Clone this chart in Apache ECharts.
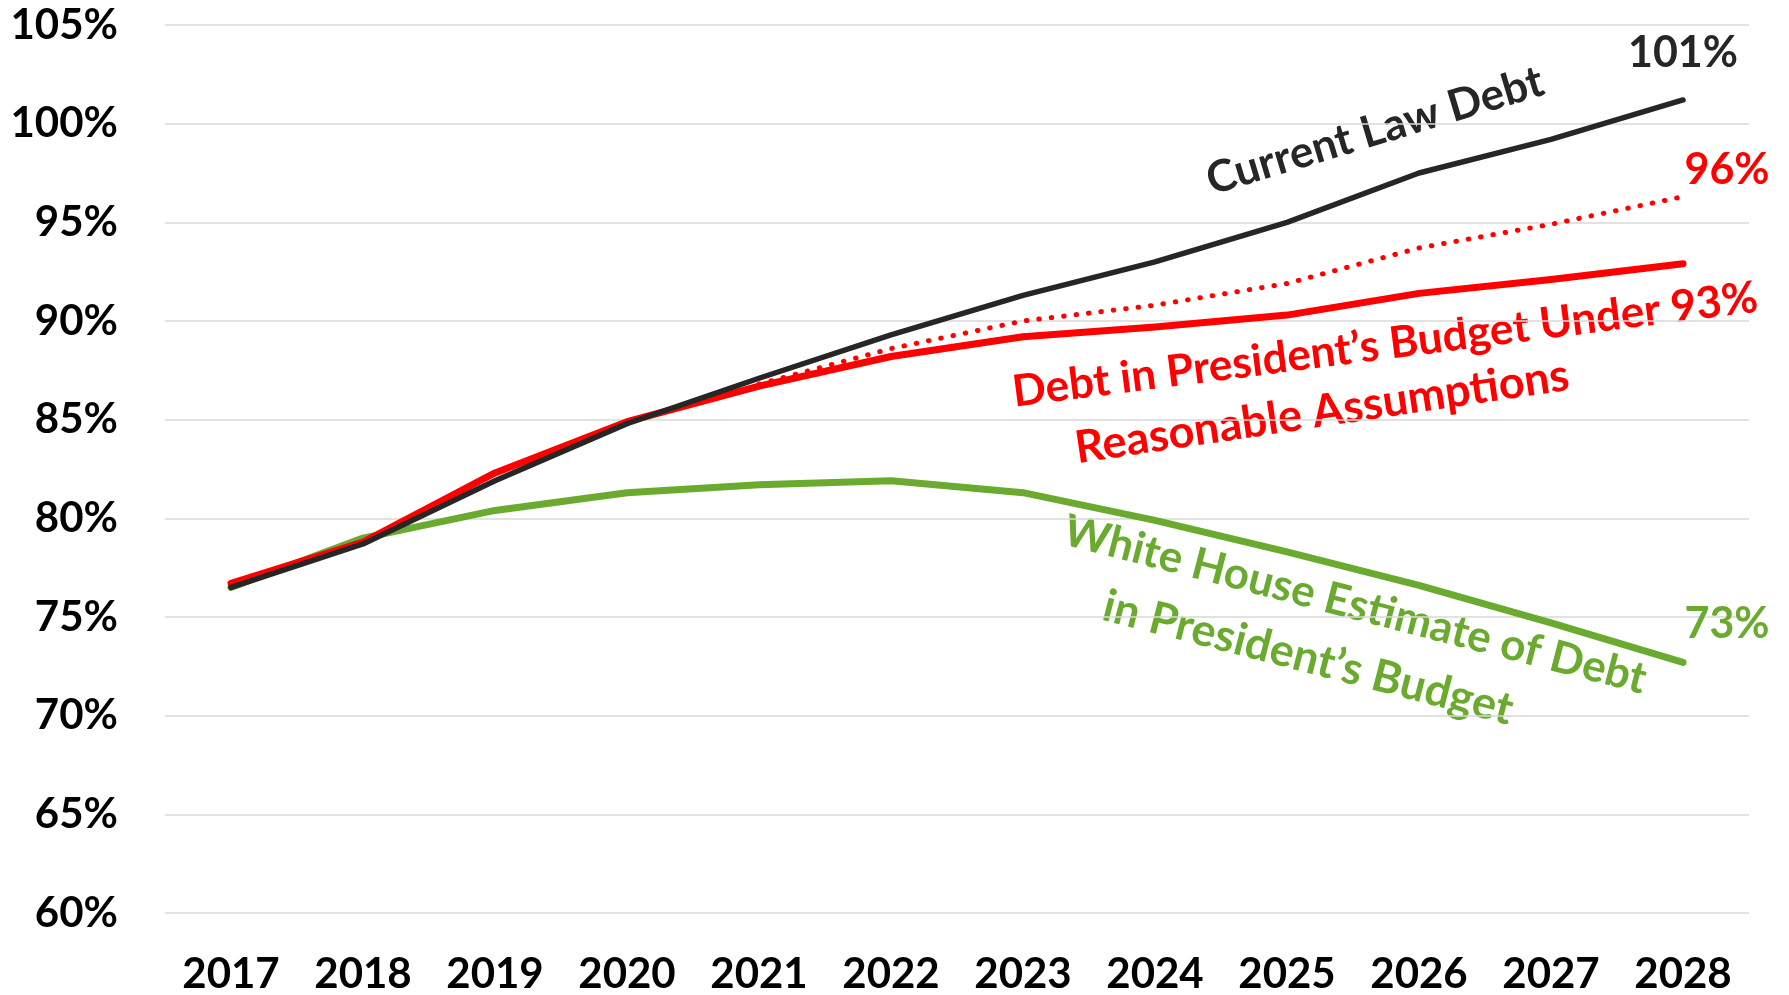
<!DOCTYPE html>
<html>
<head>
<meta charset="utf-8">
<script src="https://cdn.jsdelivr.net/npm/echarts@6/dist/echarts.min.js"></script>
<style>
  html, body { margin: 0; padding: 0; background: #fff; }
  #chart { width: 1789px; height: 995px; }
</style>
</head>
<body>
<div id="chart"></div>
<script>
// Fiscal years on the category axis
const years = ['2017','2018','2019','2020','2021','2022','2023','2024','2025','2026','2027','2028'];

// Debt held by the public, % of GDP
const currentLawDebt   = [76.5, 78.7, 81.9, 84.8, 87.1, 89.3, 91.3, 93.0, 95.0, 97.5, 99.2, 101.2];
const reasonableDebt   = [76.7, 78.8, 82.3, 84.9, 86.7, 88.2, 89.2, 89.7, 90.3, 91.4, 92.1, 92.9];
const dottedDebt       = ['-', '-', '-', '-', 86.8, 88.6, 90.0, 90.8, 91.9, 93.7, 94.9, 96.3];
const whiteHouseDebt   = [76.5, 79.0, 80.4, 81.3, 81.7, 81.9, 81.3, 79.9, 78.3, 76.6, 74.7, 72.7];

// Value axis range
const yMin = 60, yMax = 105, yStep = 5;

const FONT = 'Lato, Carlito, "Open Sans", sans-serif';
const BLACK = '#262626', RED = '#ff0000', GREEN = '#6aaa2e';

const pct = v => Math.round(v) + '%';
const last = arr => arr[arr.length - 1];

const chart = echarts.init(document.getElementById('chart'), null, { renderer: 'canvas' });

// End-of-line value label, shown on the final point only
function endPoint(values, labelCfg) {
  return values.map((v, i) => (i === values.length - 1 && labelCfg)
    ? { value: v, label: Object.assign({
        show: true, position: 'inside', fontFamily: FONT, fontWeight: 'bold', fontSize: 43,
        formatter: p => pct(p.value)
      }, labelCfg) }
    : v);
}

const lineBase = {
  type: 'line', symbol: 'circle', symbolSize: 0, showSymbol: true, smooth: false,
  silent: true, animation: false, label: { show: false }
};

function note(text, x, y, deg, color, size) {
  return { type: 'text', x: x, y: y, rotation: deg * Math.PI / 180, silent: true,
    style: { text: text, fill: color, font: 'bold ' + size + 'px ' + FONT, align: 'center', verticalAlign: 'middle' } };
}

chart.setOption({
  animation: false,
  grid: { left: 165, right: 40, top: 25, bottom: 82, containLabel: false },
  xAxis: {
    type: 'category', data: years, boundaryGap: true,
    axisLine: { show: false }, axisTick: { show: false },
    axisLabel: { color: '#000', fontFamily: FONT, fontWeight: 'bold', fontSize: 42, margin: 40 }
  },
  yAxis: {
    type: 'value', min: yMin, max: yMax, interval: yStep,
    axisLine: { show: false }, axisTick: { show: false },
    axisLabel: { color: '#000', fontFamily: FONT, fontWeight: 'bold', fontSize: 42, margin: 47,
                 formatter: v => v + '%' },
    splitLine: { lineStyle: { color: '#d9d9d9', width: 1.5 } }
  },
  series: [
    Object.assign({}, lineBase, {
      name: 'White House Estimate', z: 2,
      data: endPoint(whiteHouseDebt, { color: GREEN, offset: [44, -38] }),
      lineStyle: { color: GREEN, width: 7, cap: 'round', join: 'round' }, itemStyle: { color: GREEN }
    }),
    Object.assign({}, lineBase, {
      name: 'Reasonable Assumptions (alt)', z: 3,
      data: endPoint(dottedDebt, { color: RED, offset: [44, -27] }),
      lineStyle: { color: RED, width: 5, type: [0.5, 12], cap: 'round', join: 'round' }, itemStyle: { color: RED }
    }),
    Object.assign({}, lineBase, {
      name: 'Reasonable Assumptions', z: 4,
      data: reasonableDebt,
      lineStyle: { color: RED, width: 7, cap: 'round', join: 'round' }, itemStyle: { color: RED }
    }),
    Object.assign({}, lineBase, {
      name: 'Current Law Debt', z: 5,
      data: endPoint(currentLawDebt, { color: BLACK, offset: [0, -47] }),
      lineStyle: { color: BLACK, width: 5.5, cap: 'round', join: 'round' }, itemStyle: { color: BLACK }
    })
  ],
  graphic: [
    note('Current Law Debt', 1375, 131, 16.8, BLACK, 44),
    note('Debt in President\u2019s Budget Under ' + pct(last(reasonableDebt)), 1385, 345, 7.3, RED, 44),
    note('Reasonable Assumptions', 1322, 412, 8.5, RED, 45),
    note('White House Estimate of Debt', 1355, 605, -14.5, GREEN, 44),
    note('in President\u2019s Budget', 1308, 658, -14.5, GREEN, 45)
  ]
});
</script>
</body>
</html>
